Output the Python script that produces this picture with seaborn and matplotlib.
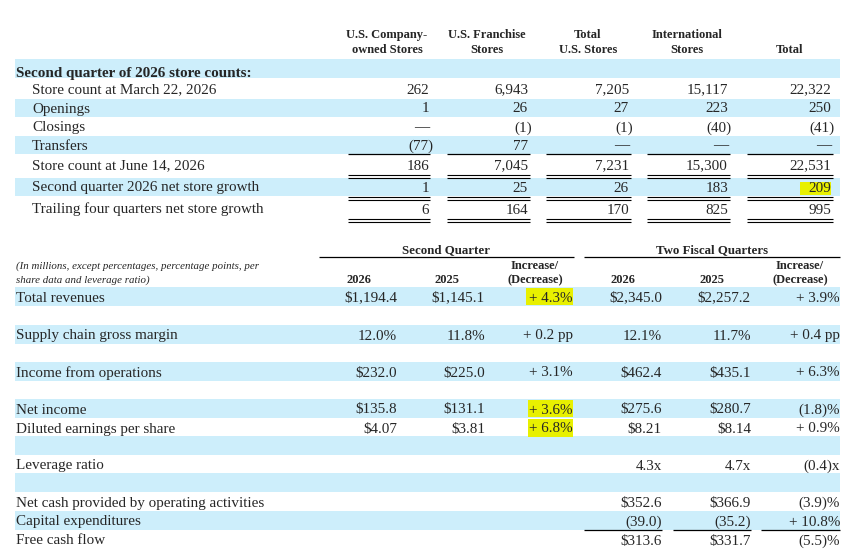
import matplotlib.pyplot as plt
import seaborn as sns

sns.set_theme(style="white")
plt.rcParams["font.family"] = ["Liberation Serif", "DejaVu Serif"]

BAND = "#cdeefb"
YEL = "#e8f000"
FS = 10.9

# ---------------- store counts ----------------
store_cols = ["U.S. Company-\nowned Stores", "U.S. Franchise\nStores", "Total\nU.S. Stores",
              "International\nStores", "Total"]
store_rows = ["Store count at March 22, 2026", "Openings", "Closings", "Transfers",
              "Store count at June 14, 2026", "Second quarter 2026 net store growth",
              "Trailing four quarters net store growth"]
store_vals = [
    ["262", "6,943", "7,205", "15,117", "22,322"],
    ["1", "26", "27", "223", "250"],
    ["—", "(1)", "(1)", "(40)", "(41)"],
    ["(77)", "77", "—", "—", "—"],
    ["186", "7,045", "7,231", "15,300", "22,531"],
    ["1", "25", "26", "183", "209"],
    ["6", "164", "170", "825", "995"],
]

# ---------------- financials ----------------
fin_rows = ["Total revenues", "", "Supply chain gross margin", "", "Income from operations", "",
            "Net income", "Diluted earnings per share", "", "Leverage ratio", "",
            "Net cash provided by operating activities", "Capital expenditures", "Free cash flow"]
q2_2026 = ["$1,194.4", "", "12.0%", "", "$232.0", "", "$135.8", "$4.07", "", "", "", "", "", ""]
q2_2025 = ["$1,145.1", "", "11.8%", "", "$225.0", "", "$131.1", "$3.81", "", "", "", "", "", ""]
q2_chg = ["+ 4.3%", "", "+ 0.2 pp", "", "+ 3.1%", "", "+ 3.6%", "+ 6.8%", "", "", "", "", "", ""]
ytd_2026 = ["$2,345.0", "", "12.1%", "", "$462.4", "", "$275.6", "$8.21", "", "4.3x", "",
            "$352.6", "(39.0)", "$313.6"]
ytd_2025 = ["$2,257.2", "", "11.7%", "", "$435.1", "", "$280.7", "$8.14", "", "4.7x", "",
            "$366.9", "(35.2)", "$331.7"]
ytd_chg = ["+ 3.9%", "", "+ 0.4 pp", "", "+ 6.3%", "", "(1.8)%", "+ 0.9%", "", "(0.4)x", "",
           "(3.9)%", "+ 10.8%", "(5.5)%"]

fig = plt.figure(figsize=(8.53, 5.58), dpi=100)
ax = fig.add_axes([0, 0, 1, 1])
ax.set_xlim(0, 853)
ax.set_ylim(558, 0)
ax.axis("off")


def band(y0, y1, x0=15, x1=840, c=BAND):
    ax.fill_between([x0, x1], y0, y1, color=c, lw=0, zorder=0)


def hline(y, x0, x1, lw=0.9):
    ax.plot([x0, x1], [y, y], color="black", lw=lw, solid_capstyle="butt")


def txt(x, y, s, **kw):
    kw.setdefault("fontsize", FS)
    ax.text(x, y + 4.5, s, va="baseline", **kw)


def num(x, y, s):
    # accounting style: closing paren hangs past the column edge
    if s.endswith(")"):
        x += 4
    txt(x, y, s, ha="right")


# upper table
col_right = [429, 528, 629, 728, 831]
col_ctr = [387, 487, 588, 687, 790]
seg = [(348, 430), (447, 530), (546, 631), (647, 730), (747, 833)]
for c, t in zip(col_ctr, store_cols):
    ax.text(c, 56, t, ha="center", va="bottom", fontsize=9, fontweight="bold", linespacing=1.3)
band(59, 78)
txt(16, 72, "Second quarter of 2026 store counts:", fontweight="bold")
row_y = [89, 108, 127, 145, 165, 187, 209]
for i, (lab, y) in enumerate(zip(store_rows, row_y)):
    if i in (1, 3, 5):
        band(y - 9.5, y + 8.5)
    txt(32, y, lab)
    for j, v in enumerate(store_vals[i]):
        num(col_right[j], y, v)
band(182, 195, 800, 831, YEL)
for a, b in seg:
    hline(154, a, b)
    for yy in (175, 177.5, 197, 199.5, 219, 221.5):
        hline(yy, a, b, lw=0.8)

# lower table
ax.text(446, 250, "Second Quarter", ha="center", va="center", fontsize=9.3, fontweight="bold")
ax.text(712, 250, "Two Fiscal Quarters", ha="center", va="center", fontsize=9.3, fontweight="bold")
hline(257, 319, 574)
hline(257, 584, 840)
ax.text(16, 266, "(In millions, except percentages, percentage points, per", fontsize=7.8,
        style="italic", va="center")
ax.text(16, 280, "share data and leverage ratio)", fontsize=7.8, style="italic", va="center")
for c, t in zip([359, 447, 623, 712], ["2026", "2025", "2026", "2025"]):
    ax.text(c, 280, t, ha="center", va="center", fontsize=9, fontweight="bold")
for c in (535, 800):
    ax.text(c, 266, "Increase/", ha="center", va="center", fontsize=9, fontweight="bold")
    ax.text(c, 280, "(Decrease)", ha="center", va="center", fontsize=9, fontweight="bold")

fin_right = [397, 485, 573, 662, 751, 840]
fin_y = [297, 316, 335, 354, 372, 391, 409, 428, 446, 465, 483, 502, 521, 540]
fin_band = [0, 2, 4, 6, 8, 10, 12]
for i, y in enumerate(fin_y):
    if i in fin_band:
        band(y - 10, y + 9)
for (x0, y0, x1, y1) in [(526, 288, 573, 305), (528, 400, 573, 417), (528, 419, 573, 437)]:
    band(y0, y1, x0, x1, YEL)
cols = [q2_2026, q2_2025, q2_chg, ytd_2026, ytd_2025, ytd_chg]
for i, (lab, y) in enumerate(zip(fin_rows, fin_y)):
    txt(16, y, lab)
    for j, col in enumerate(cols):
        s = col[i]
        if s:
            x = fin_right[j] - (4 if s.endswith(")") else 0)
            num(x, y, s)
hline(530, 584, 662)
hline(530, 673, 751)
hline(530, 761, 840)

fig.savefig("out.png", dpi=100)
